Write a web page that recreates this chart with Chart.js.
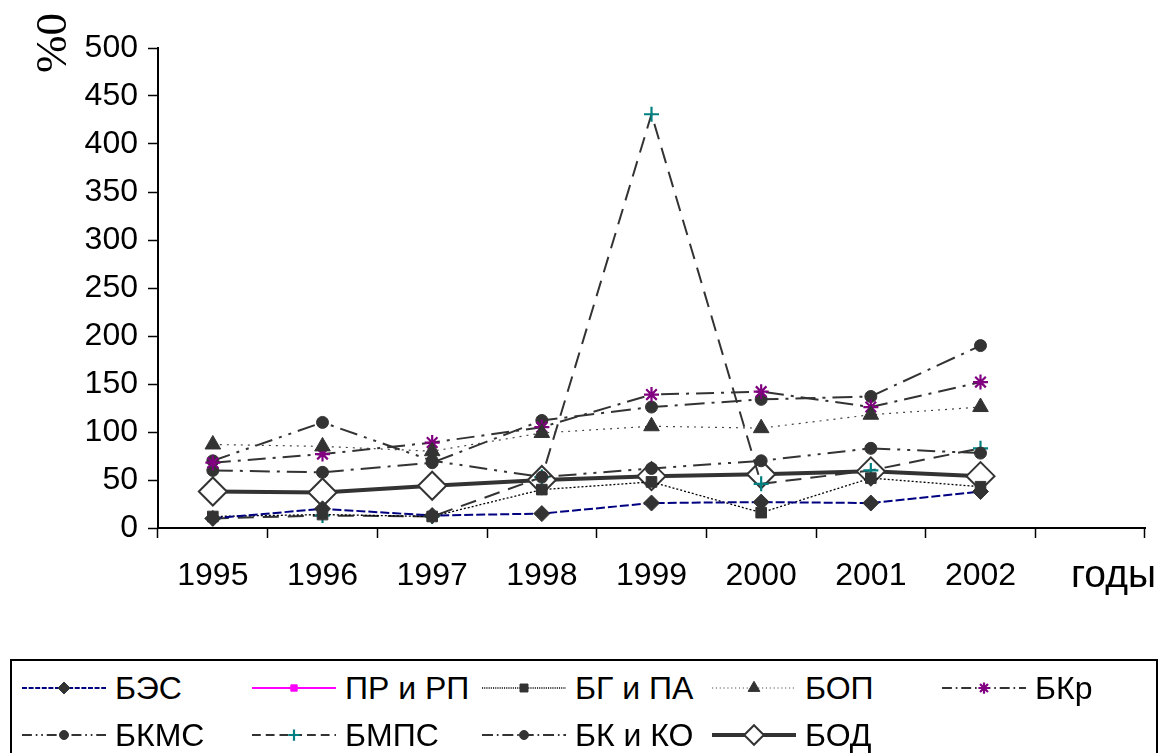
<!DOCTYPE html>
<html lang="ru">
<head>
<meta charset="utf-8">
<title>Динамика показателей, 1995–2002</title>
<script src="https://cdn.jsdelivr.net/npm/chart.js@4.4.1/dist/chart.umd.min.js"></script>
<style>
  body { margin: 0; background: #fff; font-family: "Liberation Sans", Arial, sans-serif; }
  #wrap { position: relative; width: 1161px; height: 753px; overflow: hidden; }
  #chart { position: absolute; left: 0; top: 0; }
  #legend {
    position: absolute; left: 10px; top: 659px; width: 1148px; height: 130px;
    box-sizing: border-box; border: 2px solid #000; padding: 3px 0 0 10px;
    display: grid; grid-template-columns: repeat(5, 230px); grid-auto-rows: 47px;
  }
  .item { display: flex; align-items: center; }
  .item span { margin-left: 9px; font-size: 32px; line-height: 1; color: #000; white-space: nowrap; }
</style>
</head>
<body>
<div id="wrap">
  <canvas id="chart" width="1161" height="655"></canvas>
  <div id="legend"></div>
</div>
<script>
// --- data ---
const years = ['1995', '1996', '1997', '1998', '1999', '2000', '2001', '2002', ''];

const bes   = [10, 20, 13, 15, 26, 27, 26, 38];       // БЭС
const prrp  = [null, null, null, null, null, null, null, null]; // ПР и РП
const bgpa  = [12, 14, 12, 40, 48, 16, 52, 43];       // БГ и ПА
const bop   = [87, 85, 80, 99, 106, 104, 118, 126];   // БОП
const bkr   = [68, 77, 89, 105, 139, 142, 126, 152];  // БКр
const bkms  = [70, 110, 70, 53, 62, 70, 83, 78];      // БКМС
const bmps  = [10, 13, 12, 53, 431, 46, 60, 83];      // БМПС
const bkko  = [60, 58, 68, 112, 126, 134, 137, 190];  // БК и КО
const bod   = [38, 37, 44, 50, 54, 56, 59, 54];       // БОД

const yTicks = [0, 50, 100, 150, 200, 250, 300, 350, 400, 450, 500];

const DARK = '#333333';
const FONT = '"Liberation Sans", Arial, sans-serif';

function series(label, data, opts) {
  return Object.assign({
    label: label,
    data: data,
    fill: false,
    tension: 0,
    borderColor: DARK,
    borderWidth: 2,
    pointBackgroundColor: DARK,
    pointBorderColor: DARK,
    pointBorderWidth: 1,
    pointRadius: 6,
    spanGaps: false
  }, opts);
}

const datasets = [
  series('БЭС', bes, { borderColor: '#000080', borderDash: [9, 3], pointStyle: 'rectRot', pointRadius: 8 }),
  series('ПР и РП', prrp, { borderColor: '#ff00ff', borderWidth: 2, pointStyle: 'rect', pointBackgroundColor: '#ff00ff', pointBorderColor: '#ff00ff' }),
  series('БГ и ПА', bgpa, { borderColor: '#000', borderWidth: 1.3, borderDash: [2, 2], pointStyle: 'rect', pointRadius: 7.5 }),
  series('БОП', bop, { borderColor: '#444', borderWidth: 1.2, borderDash: [2, 5], pointStyle: 'triangle', pointRadius: 9 }),
  series('БКр', bkr, { borderDash: [18, 7, 3, 7], pointStyle: 'star', pointRadius: 7.5, pointBorderColor: '#800080', pointBorderWidth: 2.2 }),
  series('БКМС', bkms, { borderDash: [18, 7, 3, 7, 3, 7], pointStyle: 'circle', pointRadius: 6 }),
  series('БМПС', bmps, { borderDash: [16, 9], pointStyle: 'cross', pointRadius: 7.5, pointBorderColor: '#008080', pointBorderWidth: 2.2 }),
  series('БК и КО', bkko, { borderDash: [20, 7, 3, 7], pointStyle: 'circle', pointRadius: 6 }),
  series('БОД', bod, { borderWidth: 4, pointStyle: 'rectRot', pointRadius: 14, pointBackgroundColor: '#fff', pointBorderWidth: 2 })
];

// axis captions: "%0" rotated at the top of the value axis, "годы" after the last year
const captions = {
  id: 'captions',
  afterDraw(chart) {
    const ctx = chart.ctx;
    ctx.save();
    ctx.fillStyle = '#000';
    ctx.font = '45px "Liberation Serif", "Times New Roman", serif';
    ctx.translate(66, 43);
    ctx.rotate(-Math.PI / 2);
    ctx.textAlign = 'center';
    ctx.textBaseline = 'alphabetic';
    ctx.fillText('%0', 0, 0);
    ctx.restore();

    ctx.save();
    ctx.fillStyle = '#000';
    ctx.font = '39px ' + FONT;
    ctx.textAlign = 'left';
    ctx.textBaseline = 'alphabetic';
    ctx.fillText('годы', chart.chartArea.right - 74, 587);
    ctx.restore();
  }
};

const ctx = document.getElementById('chart').getContext('2d');
const chart = new Chart(ctx, {
  type: 'line',
  data: { labels: years, datasets: datasets },
  options: {
    responsive: false,
    animation: false,
    layout: { padding: { top: 48, right: 13, left: 0, bottom: 0 } },
    plugins: {
      legend: { display: false },
      tooltip: { enabled: false }
    },
    scales: {
      x: {
        offset: true,
        grid: { offset: true, drawOnChartArea: false, drawTicks: true, tickLength: 10, tickColor: '#000', tickWidth: 1.5 },
        border: { color: '#000', width: 2 },
        ticks: { color: '#000', font: { family: FONT, size: 32 }, padding: 19, maxRotation: 0, autoSkip: false },
        afterFit(scale) { scale.height = 655 - 528; }
      },
      y: {
        min: yTicks[0],
        max: yTicks[yTicks.length - 1],
        afterBuildTicks(scale) { scale.ticks = yTicks.map(v => ({ value: v })); },
        grid: { drawOnChartArea: false, drawTicks: true, tickLength: 10, tickColor: '#000', tickWidth: 1.5 },
        border: { color: '#000', width: 2 },
        ticks: { color: '#000', font: { family: FONT, size: 32 }, padding: 10 },
        afterFit(scale) { scale.width = 158; }
      }
    }
  },
  plugins: [captions]
});

// legend: line sample with marker + label, laid out in fixed columns
const legendEl = document.getElementById('legend');
const markerScale = { 'БОД': 0.7 };
datasets.forEach(ds => {
  const item = document.createElement('div');
  item.className = 'item';
  const c = document.createElement('canvas');
  c.width = 84; c.height = 30;
  const g = c.getContext('2d');
  g.strokeStyle = ds.borderColor;
  g.lineWidth = ds.borderWidth;
  g.setLineDash(ds.borderDash ? ds.borderDash.map(v => v * 0.55) : []);
  g.beginPath();
  g.moveTo(0, 15);
  g.lineTo(84, 15);
  g.stroke();
  g.setLineDash([]);
  g.fillStyle = ds.pointBackgroundColor;
  g.strokeStyle = ds.pointBorderColor;
  g.lineWidth = ds.pointBorderWidth;
  const r = ds.pointRadius * (markerScale[ds.label] || 0.75);
  if (Chart.helpers && Chart.helpers.drawPoint) {
    Chart.helpers.drawPoint(g, { pointStyle: ds.pointStyle, radius: r, borderWidth: ds.pointBorderWidth, rotation: 0 }, 42, 15);
  } else {
    g.beginPath(); g.arc(42, 15, r, 0, Math.PI * 2); g.fill();
  }
  const t = document.createElement('span');
  t.textContent = ds.label;
  item.appendChild(c);
  item.appendChild(t);
  legendEl.appendChild(item);
});
</script>
</body>
</html>
